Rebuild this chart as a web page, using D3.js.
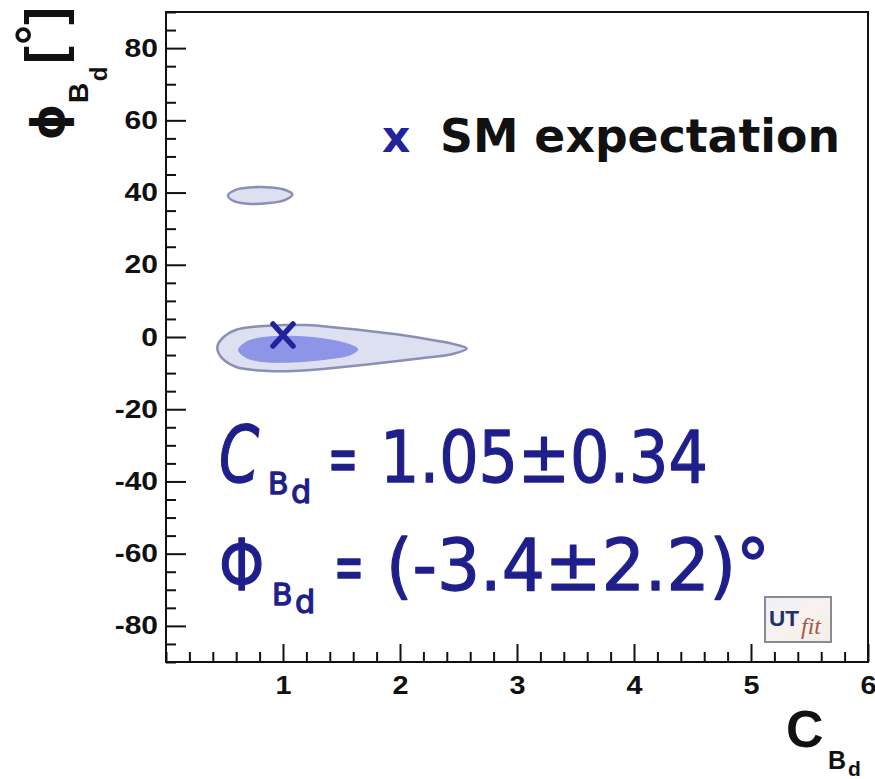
<!DOCTYPE html>
<html>
<head>
<meta charset="utf-8">
<script src="https://cdn.jsdelivr.net/npm/d3@7"></script>
<style>
  html, body { margin: 0; padding: 0; background: #ffffff; }
  svg { display: block; }
</style>
</head>
<body>
<svg id="chart" width="875" height="779"></svg>
<script>
// Axis ranges and ticks
const xDomain = [0, 6];
const yDomain = [-90, 90];
const xMajorTicks = [1, 2, 3, 4, 5, 6];
const yMajorTicks = [-80, -60, -40, -20, 0, 20, 40, 60, 80];

// 95% probability region (C, phi) — main lobe
const outerContour = [
  [0.44, -2.5], [0.50, 0.2], [0.60, 2.0], [0.80, 3.0], [1.00, 3.3], [1.20, 3.3],
  [1.45, 2.6], [1.75, 1.6], [2.00, 0.6], [2.25, -0.7], [2.45, -1.9], [2.57, -3.2],
  [2.45, -4.7], [2.20, -5.8], [2.00, -6.6], [1.70, -7.7], [1.45, -8.5], [1.20, -9.2],
  [1.00, -9.5], [0.80, -9.3], [0.60, -8.3], [0.50, -6.5], [0.45, -4.5]
];
// 95% probability region — secondary island near phi = 40
const islandContour = [
  [0.53, 39.2], [0.60, 40.8], [0.75, 41.5], [0.90, 41.4], [1.02, 40.7], [1.08, 39.5],
  [1.02, 38.0], [0.88, 37.1], [0.70, 36.9], [0.58, 37.6]
];
// 68% probability region
const innerContour = [
  [0.62, -3.6], [0.68, -1.5], [0.80, -0.3], [1.00, 0.2], [1.20, 0.0], [1.40, -0.8],
  [1.55, -1.9], [1.64, -3.4], [1.57, -5.0], [1.40, -6.0], [1.20, -6.7], [1.00, -7.0],
  [0.80, -6.7], [0.68, -5.6]
];
// Standard Model point
const smPoint = [1, 0];

// Fit results
const cLabel = "1.05±0.34";
const phiLabel = "(-3.4±2.2)°";

const svg = d3.select("#chart");
const margin = { left: 166, top: 12, right: 7, bottom: 117 };
const W = 875 - margin.left - margin.right;
const H = 779 - margin.top - margin.bottom;

const x = d3.scaleLinear().domain(xDomain).range([margin.left, margin.left + W]);
const y = d3.scaleLinear().domain(yDomain).range([margin.top + H, margin.top]);

const ink = "#1f1f8c";

// Contour regions
const line = d3.line()
  .x(d => x(d[0])).y(d => y(d[1]))
  .curve(d3.curveCatmullRomClosed.alpha(0.5));

const regions = svg.append("g");
[outerContour, islandContour].forEach(c => {
  regions.append("path")
    .attr("d", line(c))
    .attr("fill", "#dce0f1")
    .attr("stroke", "#8a8fb4")
    .attr("stroke-width", 2.5);
});
regions.append("path")
  .attr("d", line(innerContour))
  .attr("fill", "#8e94e6")
  .attr("stroke", "#8e94e6")
  .attr("stroke-width", 1);

// SM marker
const sx = x(smPoint[0]), sy = y(smPoint[1]) - 2, s = 11;
svg.append("path")
  .attr("d", `M${sx - s + 1},${sy - s}L${sx + s - 1},${sy + s}M${sx + s - 1},${sy - s}L${sx - s + 1},${sy + s}`)
  .attr("stroke", "#22229c").attr("stroke-width", 5.5).attr("stroke-linecap", "round")
  .attr("fill", "none");

// Frame
svg.append("rect")
  .attr("x", margin.left).attr("y", margin.top)
  .attr("width", W).attr("height", H)
  .attr("fill", "none").attr("stroke", "#111").attr("stroke-width", 2);

// Axes with ROOT-style inward ticks
const axisFont = "'Liberation Sans', Arial, sans-serif";
const hyphenFmt = d => String(d);
const yMinor = d3.range(-90, 90.01, 5).filter(v => !yMajorTicks.includes(v));
const xMinor = d3.range(0, 6.001, 0.2).map(v => +v.toFixed(1)).filter(v => !xMajorTicks.includes(v));

function widen(sel, k) {
  sel.each(function () {
    const L = this.getComputedTextLength();
    d3.select(this).attr("textLength", L * k).attr("lengthAdjust", "spacingAndGlyphs");
  });
}

const yAxisG = svg.append("g").attr("transform", `translate(${margin.left},0)`)
  .call(d3.axisLeft(y).tickValues(yMajorTicks).tickSizeInner(-20).tickSizeOuter(0).tickFormat(hyphenFmt));
yAxisG.select(".domain").remove();
yAxisG.selectAll(".tick line").attr("stroke", "#111").attr("stroke-width", 2);
yAxisG.selectAll(".tick text")
  .attr("font-family", axisFont).attr("font-weight", "bold").attr("font-size", 25).attr("fill", "#111")
  .attr("x", -8).call(widen, 1.2);

const yMinorG = svg.append("g").attr("transform", `translate(${margin.left},0)`)
  .call(d3.axisLeft(y).tickValues(yMinor).tickSizeInner(-10).tickSizeOuter(0).tickFormat(""));
yMinorG.select(".domain").remove();
yMinorG.selectAll(".tick line").attr("stroke", "#111").attr("stroke-width", 2);

const xAxisG = svg.append("g").attr("transform", `translate(0,${margin.top + H})`)
  .call(d3.axisBottom(x).tickValues(xMajorTicks).tickSizeInner(-18).tickSizeOuter(0).tickFormat(hyphenFmt));
xAxisG.select(".domain").remove();
xAxisG.selectAll(".tick line").attr("stroke", "#111").attr("stroke-width", 2);
xAxisG.selectAll(".tick text")
  .attr("font-family", axisFont).attr("font-weight", "bold").attr("font-size", 25).attr("fill", "#111")
  .attr("y", 14).call(widen, 1.15);

const xMinorG = svg.append("g").attr("transform", `translate(0,${margin.top + H})`)
  .call(d3.axisBottom(x).tickValues(xMinor).tickSizeInner(-10).tickSizeOuter(0).tickFormat(""));
xMinorG.select(".domain").remove();
xMinorG.selectAll(".tick line").attr("stroke", "#111").attr("stroke-width", 2);

// Axis titles
const xt = svg.append("g").attr("font-family", axisFont).attr("font-weight", "bold").attr("fill", "#111");
xt.append("text").attr("x", 786).attr("y", 747).attr("font-size", 52).text("C");
xt.append("text").attr("x", 828).attr("y", 769).attr("font-size", 25).text("B");
xt.append("text").attr("x", 848).attr("y", 776).attr("font-size", 21).text("d");

const yt = svg.append("g").attr("transform", "rotate(-90)")
  .attr("font-family", axisFont).attr("font-weight", "bold").attr("fill", "#111");
yt.append("text").attr("x", -122).attr("y", 64).attr("font-size", 46)
  .attr("font-family", "'DejaVu Sans', sans-serif").attr("text-anchor", "middle").text("ϕ");
yt.append("text").attr("x", -93).attr("y", 88).attr("font-size", 28).attr("text-anchor", "middle").text("B");
yt.append("text").attr("x", -74).attr("y", 107).attr("font-size", 24).attr("text-anchor", "middle").text("d");
yt.append("text").attr("x", -64).attr("y", 63).attr("font-size", 54).text("[");
yt.append("text").attr("x", -25).attr("y", 63).attr("font-size", 54).text("]");
yt.append("text").attr("x", -35).attr("y", 50).attr("font-size", 50).attr("text-anchor", "middle").text("°");

// Legend
const legendFont = "'DejaVu Sans', sans-serif";
svg.append("text").attr("x", 382).attr("y", 152)
  .attr("font-family", legendFont).attr("font-weight", "bold").attr("font-size", 44)
  .attr("fill", "#22229c").text("x");
svg.append("text").attr("x", 440).attr("y", 152)
  .attr("font-family", legendFont).attr("font-weight", "bold").attr("font-size", 47)
  .attr("fill", "#111").attr("textLength", 400).attr("lengthAdjust", "spacingAndGlyphs")
  .text("SM expectation");

// Fit result annotations
const res = svg.append("g").attr("font-family", legendFont).attr("fill", ink)
  .attr("stroke", ink).attr("stroke-width", 1.3).attr("stroke-linejoin", "round");
res.append("text").attr("transform", "translate(219,482) scale(0.74,1)")
  .attr("font-size", 78).attr("font-style", "italic").text("C");
res.append("text").attr("x", 268).attr("y", 494).attr("font-size", 30).text("B");
res.append("text").attr("x", 291).attr("y", 503).attr("font-size", 32).text("d");
res.append("text").attr("x", 328).attr("y", 482).attr("font-size", 68)
  .attr("textLength", 30).attr("lengthAdjust", "spacingAndGlyphs").text("=");
res.append("text").attr("x", 380).attr("y", 482).attr("font-size", 72)
  .attr("textLength", 328).attr("lengthAdjust", "spacingAndGlyphs").text(cLabel);

res.append("text").attr("transform", "translate(219,590) scale(0.8,1)")
  .attr("font-size", 72).text("Φ");
res.append("text").attr("x", 272).attr("y", 605).attr("font-size", 30).text("B");
res.append("text").attr("x", 295).attr("y", 613).attr("font-size", 32).text("d");
res.append("text").attr("x", 334).attr("y", 590).attr("font-size", 68)
  .attr("textLength", 30).attr("lengthAdjust", "spacingAndGlyphs").text("=");
res.append("text").attr("x", 386).attr("y", 590).attr("font-size", 72)
  .attr("textLength", 384).attr("lengthAdjust", "spacingAndGlyphs").text(phiLabel);

// UTfit badge
const defs = svg.append("defs");
const grad = defs.append("linearGradient").attr("id", "badge").attr("x1", 0).attr("y1", 0).attr("x2", 1).attr("y2", 1);
grad.append("stop").attr("offset", 0).attr("stop-color", "#eef0f8");
grad.append("stop").attr("offset", 0.5).attr("stop-color", "#f8f2f0");
grad.append("stop").attr("offset", 1).attr("stop-color", "#f4eee4");
const badge = svg.append("g");
badge.append("rect").attr("x", 765).attr("y", 597).attr("width", 66).attr("height", 45)
  .attr("fill", "url(#badge)").attr("stroke", "#8a8a96").attr("stroke-width", 2);
badge.append("text").attr("x", 769).attr("y", 626).attr("font-family", axisFont)
  .attr("font-weight", "bold").attr("font-size", 22).attr("fill", "#23306a")
  .attr("textLength", 30).attr("lengthAdjust", "spacingAndGlyphs").text("UT");
badge.append("text").attr("x", 801).attr("y", 634).attr("font-family", "'Liberation Serif', serif")
  .attr("font-style", "italic").attr("font-size", 24).attr("fill", "#a0584c").text("fit");
</script>
</body>
</html>
